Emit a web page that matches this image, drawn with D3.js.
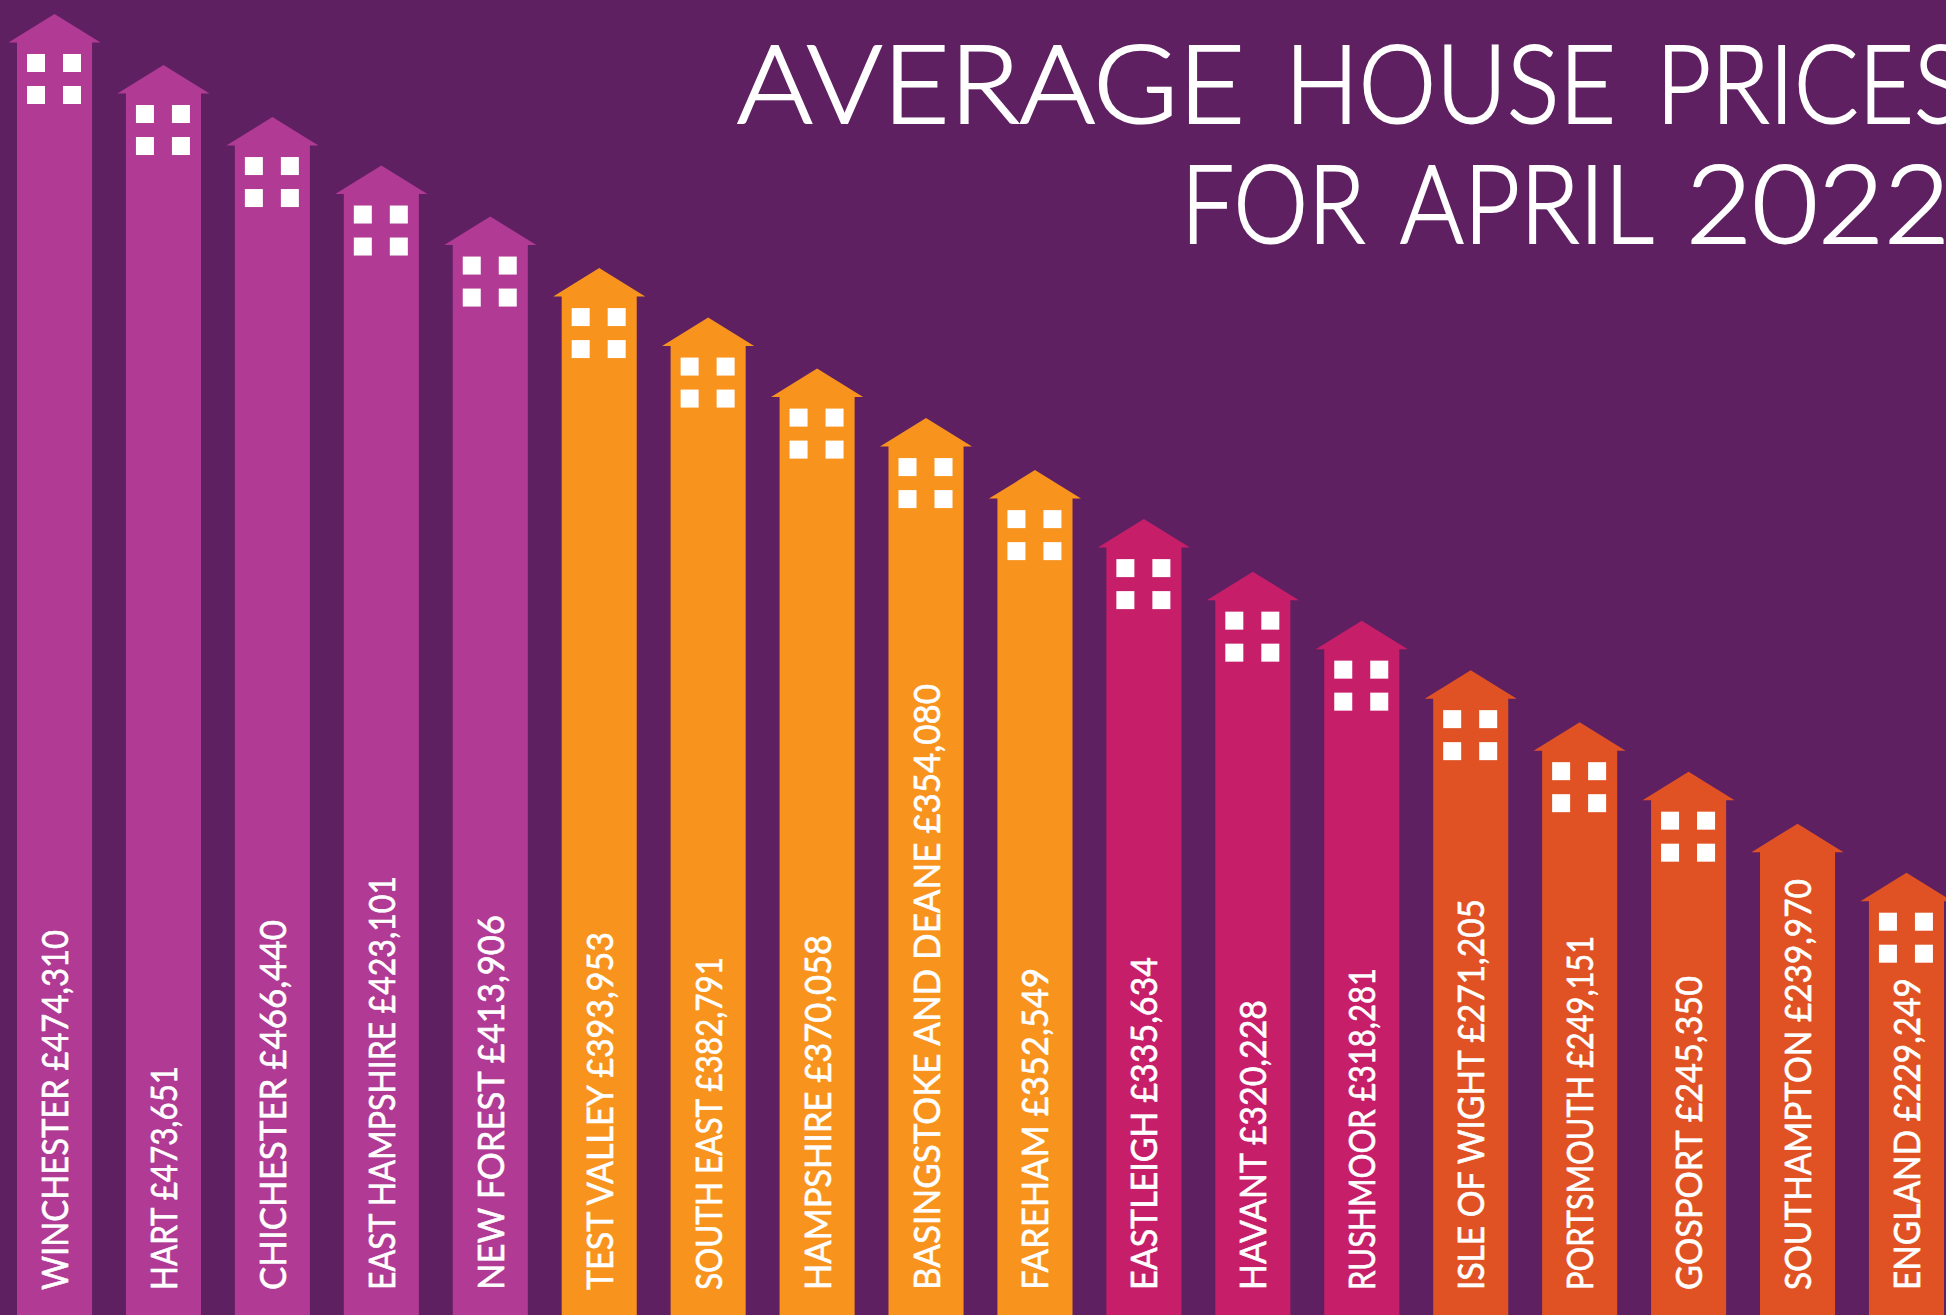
<!DOCTYPE html>
<html>
<head>
<meta charset="utf-8">
<script src="https://cdn.jsdelivr.net/npm/d3@7/dist/d3.min.js"></script>
<style>
html,body{margin:0;padding:0;background:#5f2062;overflow:hidden}
svg{display:block}
</style>
</head>
<body>
<script>
const areas = ["WINCHESTER","HART","CHICHESTER","EAST HAMPSHIRE","NEW FOREST","TEST VALLEY","SOUTH EAST","HAMPSHIRE","BASINGSTOKE AND DEANE","FAREHAM","EASTLEIGH","HAVANT","RUSHMOOR","ISLE OF WIGHT","PORTSMOUTH","GOSPORT","SOUTHAMPTON","ENGLAND"];
const prices = [474310,473651,466440,423101,413906,393953,382791,370058,354080,352549,335634,320228,318281,271205,249151,245350,239970,229249];
// the picture is a staircase ordered by rank, not a value-scaled bar chart: rung read off for each house
const rungs = [0,1.01,2.04,3.00,4.01,5.03,6.01,7.02,8.00,9.03,10.00,11.04,12.01,12.99,14.02,15.00,16.03,17.00];
const bands = [0,0,0,0,0,1,1,1,1,1,2,2,2,3,3,3,3,3];
const bandColours = ["#b03a94","#f8931d","#c71e6a","#e05223"];
const noWindows = ["SOUTHAMPTON"];
const titleLines = [["AVERAGE","HOUSE","PRICES"],["FOR","APRIL","2022"]];

// layout: the original display face has other proportions, so each text is fitted to its measured run
const labelRuns = [360,224,370,414,375,358,333,355,606,322,333,290,322,391,354,314,411,312];
const titleFit = [[[737,508],[1285,331],[1656,309]],[[1181,184],[1400,251],[1686,264]]];

const W = 1946, H = 1315;
const svg = d3.select("body").append("svg").attr("width",W).attr("height",H);
svg.append("rect").attr("width",W).attr("height",H).attr("fill","#5f2062");

const x = d3.scaleBand().domain(areas).range([17,1944]).paddingInner(0.311);
const y = d3.scaleLinear().domain([0,17]).range([14,872.7]);
const fmt = d3.format(",");
const rows = areas.map((a,i)=>({area:a,price:prices[i],rung:rungs[i],band:bands[i],run:labelRuns[i]}));

const bw = x.bandwidth(), roofH = 28.5, eave = 8.5;
const g = svg.selectAll("g.house").data(rows).join("g").attr("class","house")
  .attr("transform",d=>`translate(${x(d.area)},0)`);

g.append("path")
  .attr("fill",d=>bandColours[d.band])
  .attr("d",d=>{
    const t = y(d.rung), e = t+roofH;
    return `M${bw/2},${t}L${bw+eave},${e}L${bw},${e}L${bw},${H}L0,${H}L0,${e}L${-eave},${e}Z`;
  });

[[10,40],[46,40],[10,72],[46,72]].forEach(([dx,dy])=>{
  g.filter(d=>!noWindows.includes(d.area))
   .append("rect").attr("x",dx).attr("y",d=>y(d.rung)+dy).attr("width",18).attr("height",18).attr("fill","#fff");
});

g.append("text")
  .attr("transform",`translate(${bw/2+13.5},1290) rotate(-90)`)
  .attr("font-family","Lato, sans-serif")
  .attr("font-size",36)
  .attr("fill","#fff")
  .attr("stroke","#fff")
  .attr("stroke-width",0.6)
  .attr("textLength",d=>d.run)
  .attr("lengthAdjust","spacingAndGlyphs")
  .text(d=>`${d.area} £${fmt(d.price)}`);

titleLines.forEach((words,li)=>{
  const t = svg.append("text")
    .attr("class","title")
    .attr("y",[123,243][li])
    .attr("font-family","Lato, sans-serif")
    .attr("font-weight",300)
    .attr("font-size",108)
    .attr("fill","#fff")
    .attr("stroke","#fff")
    .attr("stroke-width",2);
  words.forEach((w,wi)=>{
    const [wx,wl] = titleFit[li][wi];
    t.append("tspan").attr("x",wx).attr("textLength",wl).attr("lengthAdjust","spacingAndGlyphs").text(w);
    if(wi<words.length-1) t.node().appendChild(document.createTextNode(" "));
  });
});
</script>
</body>
</html>
